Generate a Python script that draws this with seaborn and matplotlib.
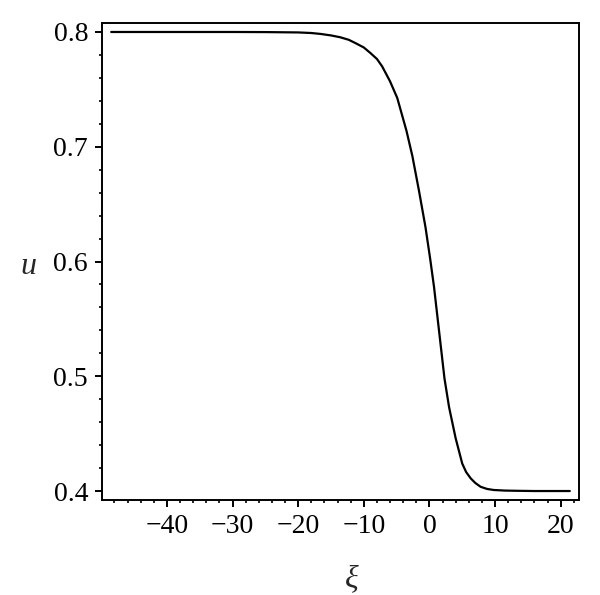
import numpy as np
import pandas as pd
import seaborn as sns
import matplotlib.pyplot as plt
from matplotlib.ticker import MultipleLocator

# values
xi = [-48.5, -40, -30, -25, -20, -18.0, -16.6, -15.0, -13.6, -12.3, -11.3, -10.0, -9.0,
      -8.0, -7.2, -6.0, -4.9, -3.5, -2.6, -1.6, -0.6, 0.1, 0.7, 1.4, 2.3, 3.0, 4.0, 5.0,
      5.6, 6.3, 7.0, 7.8, 8.8, 9.8, 11.5, 13.4, 16.0, 21.4]
u = [0.8, 0.8, 0.8, 0.7999, 0.7996, 0.7991, 0.7983, 0.797, 0.7954, 0.7932, 0.7904, 0.7865,
     0.7817, 0.7765, 0.770, 0.757, 0.7425, 0.714, 0.692, 0.662, 0.630, 0.603, 0.578, 0.543,
     0.498, 0.473, 0.446, 0.424, 0.4165, 0.411, 0.407, 0.4037, 0.4018, 0.4009, 0.4004,
     0.4002, 0.4, 0.4]
xticks = [-40, -30, -20, -10, 0, 10, 20]
yticks = [0.4, 0.5, 0.6, 0.7, 0.8]

df = pd.DataFrame({'xi': xi, 'u': u})

sns.set_style('ticks')
plt.rcParams['font.family'] = ['Liberation Serif', 'DejaVu Serif']
plt.rcParams['axes.unicode_minus'] = True

fig = plt.figure(figsize=(6, 5.95), dpi=100)
ax = fig.add_axes([0.17, 0.1597, 0.795, 0.8016])

sns.lineplot(data=df, x='xi', y='u', sort=False, color='black', linewidth=1.6, ax=ax)

ax.set_xlim(-49.9, 22.8)
ax.set_ylim(0.3922, 0.8078)
ax.set_xticks(xticks)
ax.set_yticks(yticks)
ax.set_xticklabels([f'{t:d}'.replace('-', '\u2212') for t in xticks], fontsize=20)
ax.set_yticklabels([f'{t:.1f}' for t in yticks], fontsize=20)
ax.xaxis.set_minor_locator(MultipleLocator(2))
ax.yaxis.set_minor_locator(MultipleLocator(0.02))

for s in ax.spines.values():
    s.set_linewidth(1.4)
    s.set_color('black')
ax.tick_params(which='major', direction='out', length=5, width=1.4, pad=5, colors='black')
ax.tick_params(which='minor', direction='out', length=2.5, width=1.2, colors='black')
ax.tick_params(top=False, right=False, which='both')

ax.set_xlabel('ξ', fontsize=23, style='italic')
ax.set_ylabel('u', fontsize=23, style='italic', rotation=0, va='center')
ax.xaxis.set_label_coords(0.524, -0.135)
ax.yaxis.set_label_coords(-0.155, 0.49)

fig.savefig('out.png', dpi=100)
